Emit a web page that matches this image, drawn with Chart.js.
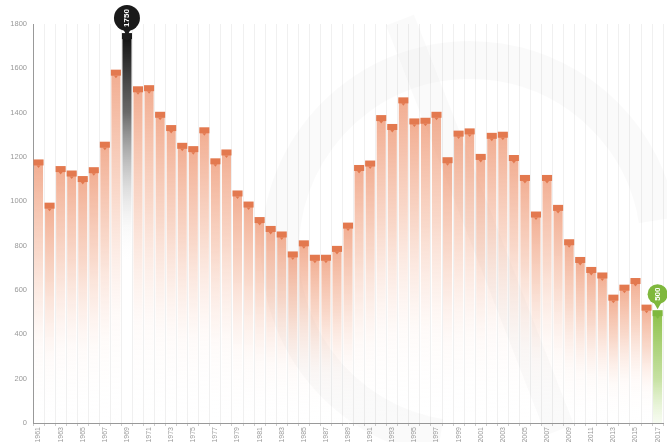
<!DOCTYPE html>
<html>
<head>
<meta charset="utf-8">
<script src="https://cdn.jsdelivr.net/npm/chart.js@4/dist/chart.umd.min.js"></script>
<style>
html,body{margin:0;padding:0;background:#fff;}
#wrap{position:relative;width:667px;height:442px;}
</style>
</head>
<body>
<div id="wrap"><canvas id="c" width="667" height="442"></canvas></div>
<script>
const years = [];
for (let y = 1961; y <= 2017; y++) years.push(String(y));
const values = [1180, 985, 1150, 1130, 1105, 1145, 1260, 1585, 1750, 1510,
  1515, 1395, 1335, 1255, 1240, 1325, 1185, 1225, 1040, 990,
  920, 880, 855, 765, 815, 750, 750, 790, 895, 1155,
  1175, 1380, 1340, 1460, 1365, 1368, 1395, 1190, 1310, 1320,
  1205, 1300, 1305, 1200, 1110, 945, 1110, 975, 820, 740,
  695, 670, 570, 615, 645, 525, 500];
const yTicks = [0, 200, 400, 600, 800, 1000, 1200, 1400, 1600, 1800];
const maxIndex = 8;      // highlighted maximum (1969)
const lastIndex = values.length - 1; // highlighted latest year

function barGradient(ctx) {
  const chart = ctx.chart;
  const ys = chart.scales && chart.scales.y;
  if (!ys || !chart.chartArea || ctx.dataIndex === undefined) return 'rgba(238,140,100,0.5)';
  const top = ys.getPixelForValue(values[ctx.dataIndex]);
  const base = ys.getPixelForValue(0);
  if (!isFinite(top) || !isFinite(base) || base - top < 1) return 'rgba(238,140,100,0.5)';
  const g = chart.ctx.createLinearGradient(0, top, 0, base);
  if (ctx.dataIndex === maxIndex) {
    g.addColorStop(0, 'rgba(15,15,15,1)');
    g.addColorStop(0.2, 'rgba(80,80,80,0.85)');
    g.addColorStop(0.5, 'rgba(220,220,220,0.15)');
    g.addColorStop(0.6, 'rgba(255,255,255,0)');
    g.addColorStop(1, 'rgba(255,255,255,0)');
  } else if (ctx.dataIndex === lastIndex) {
    g.addColorStop(0, 'rgba(140,192,72,1)');
    g.addColorStop(0.6, 'rgba(160,205,100,0.6)');
    g.addColorStop(1, 'rgba(200,230,160,0.15)');
  } else {
    g.addColorStop(0, 'rgba(236,138,98,0.7)');
    g.addColorStop(0.35, 'rgba(240,160,125,0.4)');
    g.addColorStop(0.7, 'rgba(248,200,180,0.08)');
    g.addColorStop(1, 'rgba(255,255,255,0)');
  }
  return g;
}

const watermark = {
  id: 'watermark',
  beforeDatasetsDraw(chart) {
    const c = chart.ctx;
    c.save();
    c.strokeStyle = 'rgba(0,0,0,0.018)';
    c.lineWidth = 38;
    c.beginPath();
    c.arc(470, 250, 190, Math.PI * 0.55, Math.PI * 1.95);
    c.stroke();
    c.lineWidth = 30;
    c.beginPath();
    c.moveTo(400, 20); c.lineTo(560, 430);
    c.stroke();
    c.restore();
  }
};

const caps = {
  id: 'caps',
  afterDatasetsDraw(chart) {
    const c = chart.ctx;
    const meta = chart.getDatasetMeta(0);
    c.save();
    meta.data.forEach((el, i) => {
      const w = el.width + 1;
      const x = el.x, y = el.y;
      let col = '#e3794f';
      if (i === maxIndex) col = '#1a1a1a';
      if (i === lastIndex) col = '#7fb83d';
      c.fillStyle = col;
      c.fillRect(x - w / 2, y - 2, w, 6);
      c.beginPath();
      c.moveTo(x - 2, y + 4); c.lineTo(x + 2, y + 4); c.lineTo(x, y + 6.5);
      c.closePath(); c.fill();
      if (i === maxIndex || i === lastIndex) {
        const r = i === maxIndex ? 13 : 10;
        const cy = i === maxIndex ? 18 : y - 18;
        c.fillStyle = col;
        c.beginPath();
        c.arc(x, cy, r, 0, Math.PI * 2);
        c.fill();
        c.beginPath();
        c.moveTo(x - 4, cy + r - 2); c.lineTo(x + 4, cy + r - 2); c.lineTo(x, cy + r + 5);
        c.closePath(); c.fill();
        if (i === maxIndex) {
          c.fillRect(x - 1.5, cy + r, 3, y - cy - r);
        }
        c.save();
        c.translate(x, cy);
        c.rotate(-Math.PI / 2);
        c.fillStyle = '#fff';
        c.font = 'bold 8px "Liberation Sans", Arial, sans-serif';
        c.textAlign = 'center';
        c.textBaseline = 'middle';
        c.fillText(String(values[i]), 0, 0);
        c.restore();
      }
    });
    c.restore();
  }
};

new Chart(document.getElementById('c'), {
  type: 'bar',
  data: {
    labels: years,
    datasets: [{
      data: values,
      backgroundColor: barGradient,
      borderWidth: 0,
      barPercentage: 0.82,
      categoryPercentage: 1.0
    }]
  },
  plugins: [watermark, caps],
  options: {
    responsive: false,
    animation: false,
    events: [],
    layout: { padding: { top: 24, right: 1, left: 0, bottom: 0 } },
    plugins: { legend: { display: false }, tooltip: { enabled: false } },
    scales: {
      x: {
        grid: { display: true, color: '#f0f0f0', tickColor: '#ccc', tickLength: 3, offset: true },
        border: { display: true, color: '#999' },
        ticks: {
          autoSkip: false, minRotation: 90, maxRotation: 90,
          color: '#999', padding: 1,
          font: { size: 7, family: '"Liberation Sans", Arial, sans-serif' },
          callback: function (v, i) { return i % 2 === 0 ? this.getLabelForValue(v) : ''; }
        },
        afterFit(s) { s.height = 19; }
      },
      y: {
        min: 0, max: 1800,
        afterBuildTicks(s) { s.ticks = yTicks.map(v => ({ value: v })); },
        grid: { display: false, drawTicks: true, tickLength: 3, tickColor: '#999' },
        border: { display: true, color: '#999' },
        ticks: {
          color: '#999', padding: 3,
          font: { size: 7.5, family: '"Liberation Sans", Arial, sans-serif' },
          callback: (v) => String(v)
        },
        afterFit(s) { s.width = 33; }
      }
    }
  }
});
</script>
</body>
</html>
